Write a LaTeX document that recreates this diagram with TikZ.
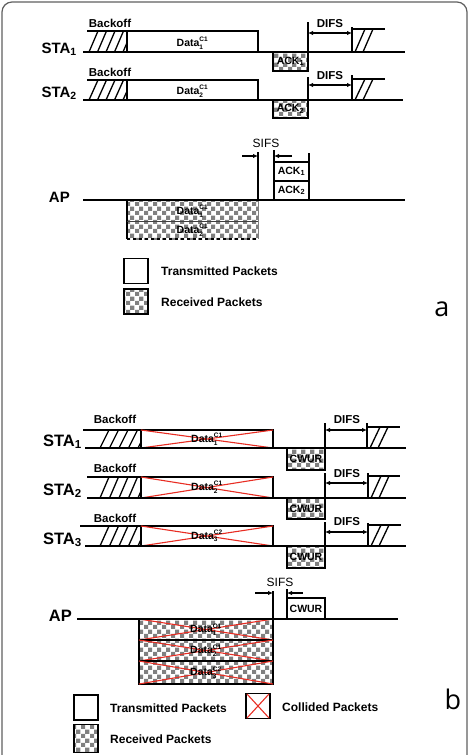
\documentclass[tikz,border=0pt]{standalone}
\usepackage{fontspec}
\setmainfont{Liberation Sans}
\newfontfamily\panelfont{Open Sans}
\usetikzlibrary{arrows.meta,patterns.meta}

% checkerboard used for received packets
\tikzdeclarepattern{
  name=chk,
  type=uncolored,
  bottom left={(0pt,0pt)},
  top right={(9pt,9pt)},
  tile size={(9pt,9pt)},
  code={
    \fill (0pt,0pt) rectangle (4.5pt,4.5pt);
    \fill (4.5pt,4.5pt) rectangle (9pt,9pt);
  }
}

\definecolor{chkgray}{RGB}{128,128,128}
\definecolor{framegray}{RGB}{95,95,95}
\definecolor{xred}{RGB}{232,45,35}

\tikzset{
  axis/.style={line width=1.7pt},
  edge/.style={line width=1.3pt},
  hatch/.style={line width=1.3pt},
  rx/.style={pattern=chk, pattern color=chkgray},
  xline/.style={xred, line width=1.1pt},
  arr/.style={line width=1.1pt, -{Latex[length=5pt,width=4.5pt]}},
  difarr/.style={line width=1.1pt, {Latex[length=5pt,width=4.5pt]}-{Latex[length=5pt,width=4.5pt]}},
  sta/.style={font=\bfseries\fontsize{15}{15}\selectfont, inner sep=0pt, anchor=base east},
  stab/.style={font=\bfseries\fontsize{16.5}{16.5}\selectfont, inner sep=0pt, anchor=base east},
  bk/.style={font=\bfseries\fontsize{11.5}{11.5}\selectfont, inner sep=0pt},
  sifs/.style={font=\fontsize{12}{12}\selectfont, inner sep=0pt},
  dlab/.style={font=\bfseries\fontsize{10.5}{10.5}\selectfont, inner sep=0pt},
  pkt/.style={draw, edge, inner sep=0pt, font=\bfseries\fontsize{10.5}{10.5}\selectfont},
  leg/.style={font=\bfseries\fontsize{12}{12}\selectfont, inner sep=0pt, anchor=west},
  legbox/.style={draw, line width=1.8pt, inner sep=0pt, minimum width=24pt, minimum height=25pt},
  tag/.style={font=\panelfont\fontsize{27}{27}\selectfont, inner sep=0pt},
}

% diagonal hatching of a back-off slot: x left, x right, y top, y bottom, spacing
\newcommand{\bkhatch}[5]{%
  \begin{scope}
    \clip (#1,#3) rectangle (#2,#4);
    \foreach \k in {0,...,6}{
      \draw[hatch] ({#1+2+\k*#5},#4) -- ({#1+11+\k*#5},#3);
    }
  \end{scope}}
% two strokes of the back-off slot after DIFS: x start, y top, y bottom
\newcommand{\difhatch}[3]{%
  \draw[hatch] ({#1+3},#3) -- ({#1+13},#2);
  \draw[hatch] ({#1+11},#3) -- ({#1+21},#2);}
% red cross over a collided frame
\newcommand{\xmark}[4]{\draw[xline] (#1,#2) -- (#3,#4) (#1,#4) -- (#3,#2);}
% frame label with stacked sub- and superscript
\newcommand{\dat}[2]{$\mbox{Data}_{\mbox{\fontsize{6.5}{6.5}\selectfont #1}}^{\mbox{\fontsize{6.5}{6.5}\selectfont #2}}$}

\begin{document}
\begin{tikzpicture}[x=1pt,y=-1pt]
\useasboundingbox (0,0) rectangle (471,755);
\clip (0,0) rectangle (471,755);
\draw[framegray, line width=1.2pt, rounded corners=10pt] (2,2) rectangle (467,800);

% ================= (a) =================
% STA1
\node[sta] (sta1a) at (77,53) {STA\textsubscript{1}};
\node[bk] (bk1a) at (110,23) {Backoff};
\bkhatch{87}{127}{31}{52}{8.5}
\draw[edge] (87,31) -- (258,31) -- (258,52);
\draw[edge] (127,31) -- (127,52);
\node[dlab] (d1a) at (192.5,43) {\dat{1}{C1}};
\draw[axis] (83,52) -- (405,52);
\node[pkt, rx, minimum width=35pt, minimum height=19pt] (ack1a) at (290.5,61.5) {ACK\textsubscript{1}};
\draw[edge] (308,22) -- (308,52);
\draw[edge] (352,27) -- (352,52);
\draw[edge] (352,29) -- (385,29);
\difhatch{352}{29}{52}
\draw[difarr] (308,33) -- (352,33);
\node[bk] (dif1a) at (330,24) {DIFS};

% STA2
\node[sta] (sta2a) at (77,97) {STA\textsubscript{2}};
\node[bk] (bk2a) at (110,72) {Backoff};
\bkhatch{87}{127}{80}{100}{8.5}
\draw[edge] (87,80) -- (258,80) -- (258,100);
\draw[edge] (127,80) -- (127,100);
\node[dlab] (d2a) at (192.5,91) {\dat{2}{C1}};
\draw[axis] (83,100) -- (403,100);
\node[pkt, rx, minimum width=35pt, minimum height=18pt] (ack2a) at (290.5,109) {ACK\textsubscript{2}};
\draw[edge] (308,77) -- (308,100);
\draw[edge] (352,75) -- (352,100);
\draw[edge] (352,79) -- (385,79);
\difhatch{352}{79}{100}
\draw[difarr] (308,85) -- (352,85);
\node[bk] (dif2a) at (330,76) {DIFS};

% AP
\node[sta] (apa) at (70,202) {AP};
\fill[rx] (127,200) rectangle (258,239);
\draw[edge] (127,200) -- (127,239);
\draw[line width=0.8pt, black!75] (127,221) -- (258,221);
\draw[line width=1.2pt, dashed] (127,239) -- (258,239);
\draw[line width=0.6pt, black!50] (258,200) -- (258,239);
\node[dlab] (ad1a) at (192.5,211) {\dat{1}{C1}};
\node[dlab] (ad2a) at (192.5,230) {\dat{2}{C1}};
\draw[axis] (83,200) -- (405,200);
\draw[edge] (258,152) -- (258,200);
\draw[arr] (242,156) -- (258,156);
\node[sifs] (sifsa) at (266,143) {SIFS};
\draw[edge] (274,150) -- (274,200);
\draw[edge] (309,153) -- (309,200);
\node[pkt, fill=white, minimum width=35pt, minimum height=19pt] (apack1) at (291.5,171.5) {ACK\textsubscript{1}};
\node[pkt, fill=white, minimum width=35pt, minimum height=19pt] (apack2) at (291.5,190.5) {ACK\textsubscript{2}};
\draw[arr] (292,156) -- (274,156);

% legend
\node[legbox] (lt1) at (136,271) {};
\node[leg] at (161,271) {Transmitted Packets};
\node[legbox, rx] (lr1) at (136,301.5) {};
\node[leg] at (161,302) {Received Packets};
\node[tag] (taga) at (442,309) {a};

% ================= (b) =================
% STA1
\node[stab] (sta1b) at (82,446) {STA\textsubscript{1}};
\node[bk] (bk1b) at (115,419) {Backoff};
\bkhatch{98}{141}{430}{448}{9.5}
\draw[edge] (83,430) -- (273,430) -- (273,448);
\draw[edge] (141,430) -- (141,448);
\xmark{141}{430}{273}{448}
\node[dlab] (d1b) at (207,439) {\dat{1}{C1}};
\draw[axis] (85,448) -- (406,448);
\node[pkt, rx, minimum width=38pt, minimum height=22pt] (cw1) at (306,459) {CWUR};
\draw[edge] (325,423) -- (325,448);
\draw[edge] (367,423) -- (367,448);
\draw[edge] (367,427) -- (400,427);
\difhatch{367}{427}{448}
\draw[difarr] (325,430) -- (367,430);
\node[bk] (dif1b) at (347,420) {DIFS};

% STA2
\node[stab] (sta2b) at (82,495) {STA\textsubscript{2}};
\node[bk] (bk2b) at (115,468) {Backoff};
\bkhatch{98}{141}{477}{498}{9.5}
\draw[edge] (87,477) -- (273,477) -- (273,498);
\draw[edge] (141,477) -- (141,498);
\xmark{141}{477}{273}{498}
\node[dlab] (d2b) at (207,487) {\dat{2}{C1}};
\draw[axis] (87,498) -- (406,498);
\node[pkt, rx, minimum width=38pt, minimum height=21pt] (cw2) at (306,508.5) {CWUR};
\draw[edge] (325,473) -- (325,498);
\draw[edge] (368,473) -- (368,498);
\draw[edge] (368,476) -- (400,476);
\difhatch{368}{476}{498}
\draw[difarr] (325,483) -- (368,483);
\node[bk] (dif2b) at (347,474) {DIFS};

% STA3
\node[stab] (sta3b) at (82,544) {STA\textsubscript{3}};
\node[bk] (bk3b) at (115,518) {Backoff};
\bkhatch{98}{141}{526}{546}{9.5}
\draw[edge] (80,526) -- (273,526) -- (273,546);
\draw[edge] (141,526) -- (141,546);
\xmark{141}{526}{273}{546}
\node[dlab] (d3b) at (207,536) {\dat{3}{C2}};
\draw[axis] (85,546) -- (406,546);
\node[pkt, rx, minimum width=38pt, minimum height=22pt] (cw3) at (306,557) {CWUR};
\draw[edge] (325,522) -- (325,546);
\draw[edge] (368,523) -- (368,546);
\draw[edge] (368,525) -- (401,525);
\difhatch{368}{525}{546}
\draw[difarr] (325,532) -- (368,532);
\node[bk] (dif3b) at (347,522) {DIFS};

% AP
\node[stab] (apb) at (72,621) {AP};
\foreach \ya/\yb/\s/\c in {619/640/1/C1, 640/661/2/C1, 661/684/3/C2}{
  \draw[edge, rx] (139,\ya) rectangle (273,\yb);
  \xmark{139}{\ya}{273}{\yb}
  \node[dlab] at (206,{(\ya+\yb)/2}) {\dat{\s}{\c}};
}
\draw[axis] (77,619) -- (398,619);
\draw[edge] (273,591) -- (273,619);
\draw[arr] (255,593) -- (273,593);
\node[sifs] (sifsb) at (280,582) {SIFS};
\draw[edge] (287,589) -- (287,619);
\node[pkt, fill=white, minimum width=38pt, minimum height=21pt] (apcw) at (306,608.5) {CWUR};
\draw[arr] (303,593) -- (287,593);

% legend
\node[legbox] (lt2) at (86,707.5) {};
\node[leg] at (110,708) {Transmitted Packets};
\node[legbox] (lc2) at (258,706) {};
\xmark{247}{694}{269}{718}
\node[leg] at (282,707) {Collided Packets};
\node[legbox, rx, minimum height=28pt] (lr2) at (86,738.5) {};
\node[leg] at (110,739) {Received Packets};
\node[tag] (tagb) at (453,699) {b};
\end{tikzpicture}
\end{document}
